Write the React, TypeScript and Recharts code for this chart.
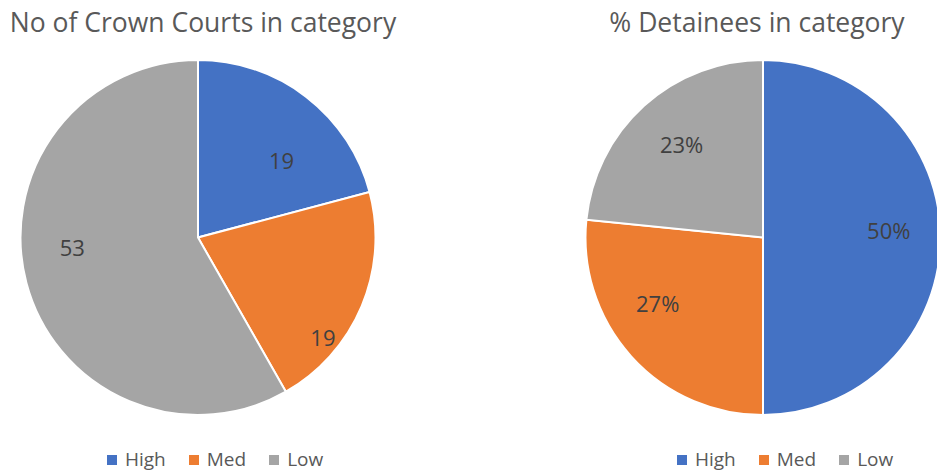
import React from 'react';
import { PieChart, Pie, Cell, Legend } from 'recharts';

const categories = ['High', 'Med', 'Low'];
const courtCounts = [19, 19, 53];
const detaineePercents = [50, 26.6, 23.4];
const sliceColors = ['#4472C4', '#ED7D31', '#A5A5A5'];

const courtsData = categories.map((name, i) => ({ name, value: courtCounts[i] }));
const detaineesData = categories.map((name, i) => ({ name, value: detaineePercents[i] }));

const FONT = '"Open Sans", sans-serif';

// label placement tweaks (best-fit style): angle shift in degrees, radius ratio
const courtsLabelPlacement = [
  { shift: -9.7, ratio: 0.64 },
  { shift: -15.8, ratio: 0.9 },
  { shift: -10.5, ratio: 0.71 },
];
const detaineesLabelPlacement = [
  { shift: 3.4, ratio: 0.71 },
  { shift: -10.1, ratio: 0.7 },
  { shift: -1.2, ratio: 0.7 },
];

const makeLabel = (suffix: string, placement: { shift: number; ratio: number }[]) => (props: any) => {
  const { cx, cy, midAngle, outerRadius, value, index } = props;
  const p = placement[index] || { shift: 0, ratio: 0.7 };
  const ang = ((midAngle + p.shift) * Math.PI) / 180;
  const r = outerRadius * p.ratio;
  const x = cx + r * Math.cos(ang);
  const y = cy - r * Math.sin(ang);
  return (
    <text
      x={x}
      y={y}
      textAnchor="middle"
      dominantBaseline="central"
      fill="#404040"
      fontSize={22}
      fontFamily={FONT}
    >
      {Math.round(value)}
      {suffix}
    </text>
  );
};

const renderLegend = (props: any) => {
  const items = [...(props.payload || [])].sort(
    (a: any, b: any) => categories.indexOf(a.value) - categories.indexOf(b.value)
  );
  return (
    <div style={{ display: 'flex', alignItems: 'center', fontFamily: FONT, fontSize: 19, lineHeight: '19px', color: '#595959' }}>
      {items.map((entry: any, i: number) => (
        <div key={i} style={{ display: 'flex', alignItems: 'center', marginRight: 23 }}>
          <span style={{ display: 'inline-block', width: 10, height: 10, background: entry.color, marginRight: 8 }} />
          <span>{entry.value}</span>
        </div>
      ))}
    </div>
  );
};

const titleStyle: React.CSSProperties = {
  position: 'absolute',
  fontFamily: FONT,
  fontSize: 26.5,
  lineHeight: '26px',
  color: '#595959',
  whiteSpace: 'nowrap',
  transform: 'translateX(-50%)',
};

export default function App() {
  return (
    <div style={{ position: 'absolute', left: 0, top: 0, width: 937, height: 475, background: '#fff', overflow: 'hidden' }}>
      <div style={{ ...titleStyle, left: 203, top: 9 }}>No of Crown Courts in category</div>
      <div style={{ ...titleStyle, left: 757, top: 9 }}>% Detainees in category</div>

      <div style={{ position: 'absolute', left: 0, top: 0 }}>
        <PieChart width={420} height={475} margin={{ top: 0, right: 0, bottom: 0, left: 0 }}>
          <Pie
            data={courtsData}
            dataKey="value"
            nameKey="name"
            cx={198}
            cy={237.5}
            outerRadius={177.5}
            startAngle={90}
            endAngle={-270}
            stroke="#ffffff"
            strokeWidth={2}
            label={makeLabel('', courtsLabelPlacement)}
            labelLine={false}
            isAnimationActive={false}
          >
            {courtsData.map((d, i) => (
              <Cell key={d.name} fill={sliceColors[i]} />
            ))}
          </Pie>
          <Legend content={renderLegend} wrapperStyle={{ position: 'absolute', left: 107, top: 450, width: 'auto', bottom: 'auto' }} />
        </PieChart>
      </div>

      <div style={{ position: 'absolute', left: 420, top: 0 }}>
        <PieChart width={517} height={475} margin={{ top: 0, right: 0, bottom: 0, left: 0 }}>
          <Pie
            data={detaineesData}
            dataKey="value"
            nameKey="name"
            cx={343}
            cy={237.5}
            outerRadius={177.5}
            startAngle={90}
            endAngle={-270}
            stroke="#ffffff"
            strokeWidth={2}
            label={makeLabel('%', detaineesLabelPlacement)}
            labelLine={false}
            isAnimationActive={false}
          >
            {detaineesData.map((d, i) => (
              <Cell key={d.name} fill={sliceColors[i]} />
            ))}
          </Pie>
          <Legend content={renderLegend} wrapperStyle={{ position: 'absolute', left: 257, top: 450, width: 'auto', bottom: 'auto' }} />
        </PieChart>
      </div>
    </div>
  );
}
